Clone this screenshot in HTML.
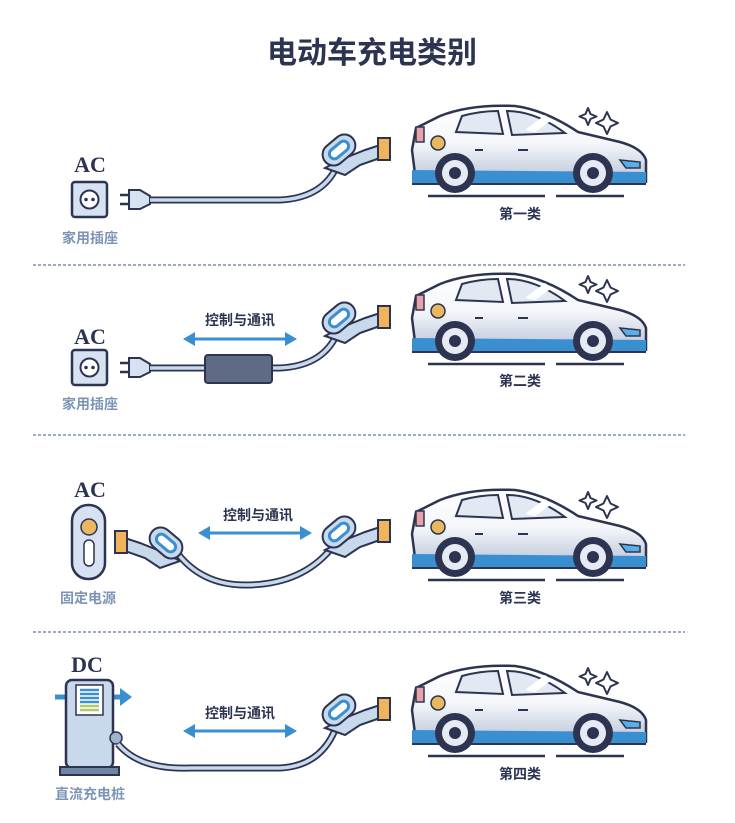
<!DOCTYPE html>
<html><head><meta charset="utf-8"><style>
html,body{margin:0;padding:0;background:#fff}
svg{display:block}
text{font-family:"Liberation Sans","Noto Sans CJK SC",sans-serif;font-weight:bold}
text.ser{font-family:"Liberation Serif",serif;font-weight:bold}
</style></head><body>
<svg width="735" height="823" viewBox="0 0 735 823" xmlns="http://www.w3.org/2000/svg">
<defs>
<linearGradient id="bg" x1="0" y1="0" x2="0" y2="1"><stop offset="0" stop-color="#ffffff"/><stop offset="0.5" stop-color="#f4f6fa"/><stop offset="1" stop-color="#b9c3d6"/></linearGradient>
<g id="car">
<path d="M416,128 L440,116 Q470,104 515,106 Q545,110 578,132 L620,142 Q642,148 646,160 L646,182 L416,182 L412,150 Z" fill="url(#bg)" stroke="#2d3452" stroke-width="2.5" stroke-linejoin="round"/>
<path d="M412,170 L646,172 L646,184 L412,184 Z" fill="#3a8fd0"/>
<path d="M412,184 L646,184" stroke="#2d3452" stroke-width="2"/>
<path d="M456,132 L462,116 Q480,111 498,111 L503,134 Z" fill="#e3e9f2" stroke="#2d3452" stroke-width="2"/>
<path d="M507,111 Q535,111 565,133 L512,135 Z" fill="#e3e9f2" stroke="#2d3452" stroke-width="2"/>
<path d="M525,130 L545,115 L552,120 L535,132 Z" fill="#ffffff"/>
<path d="M416,127 L424,127 L424,142 L416,142 Z" fill="#e9a1a8" stroke="#2d3452" stroke-width="1.5"/>
<circle cx="438" cy="143" r="7" fill="#e9b860" stroke="#2d3452" stroke-width="1.5"/>
<path d="M620,160 L640,162 L640,168 L626,168 Z" fill="#5ab0e6" stroke="#2d3452" stroke-width="1.5"/>
<path d="M475,150 h8 M518,150 h10" stroke="#2d3452" stroke-width="2"/>
<circle cx="455" cy="173" r="20" fill="#2d3452"/><circle cx="455" cy="173" r="13" fill="#e6ebf3"/><circle cx="455" cy="173" r="6" fill="#2d3452"/>
<circle cx="593" cy="173" r="20" fill="#2d3452"/><circle cx="593" cy="173" r="13" fill="#e6ebf3"/><circle cx="593" cy="173" r="6" fill="#2d3452"/>
<path d="M428,196 H545 M556,196 H624" stroke="#2d3452" stroke-width="2.5"/>
<path d="M588,108 l2.5,6 l6,2.5 l-6,2.5 l-2.5,6 l-2.5,-6 l-6,-2.5 l6,-2.5z M607,112 l3.5,7.5 l7.5,3.5 l-7.5,3.5 l-3.5,7.5 l-3.5,-7.5 l-7.5,-3.5 l7.5,-3.5z" fill="none" stroke="#2d3452" stroke-width="2" stroke-linejoin="round"/>
</g>
<g id="handle">
<path d="M325,168 L340,160 L365,150 L380,145 L380,158 L360,165 L345,175 Z" fill="#c9d9ec" stroke="#2d3452" stroke-width="2"/>
<rect x="321" y="139" width="36" height="22" rx="11" transform="rotate(-40 339 150)" fill="#c9d9ec" stroke="#2d3452" stroke-width="2"/>
<rect x="328" y="145" width="22" height="10" rx="5" transform="rotate(-40 339 150)" fill="#fff" stroke="#3a8fd0" stroke-width="3"/>
<rect x="378" y="138" width="12" height="22" fill="#f2b45a" stroke="#2d3452" stroke-width="2"/>
</g>
<g id="outlet">
<rect x="72" y="182" width="35" height="35" rx="3" fill="#d6e2f1" stroke="#2d3452" stroke-width="2.5"/>
<circle cx="89.5" cy="199.5" r="9" fill="#fff" stroke="#2d3452" stroke-width="2"/>
<circle cx="86" cy="199.5" r="1.8" fill="#2d3452"/><circle cx="93" cy="199.5" r="1.8" fill="#2d3452"/>
<path d="M120,195 h9 M120,204 h9" stroke="#2d3452" stroke-width="2.5"/>
<path d="M129,190 L140,190 L150,196 L150,204 L140,209 L129,209 Z" fill="#d6e2f1" stroke="#2d3452" stroke-width="2"/>
</g>
</defs>
<text x="372" y="63" font-size="30" text-anchor="middle" fill="#2d3452">电动车充电类别</text>
<g stroke="#7d8fa8" stroke-width="1.5" stroke-dasharray="3,2"><path d="M33,265 H685 M33,435 H685 M33,632 H685"/></g>
<!-- Row 1 -->
<text class="ser" x="90" y="172" font-size="22" text-anchor="middle" fill="#2d3452">AC</text>
<use href="#outlet"/>
<path d="M150,200 H280 Q320,198 335,170" fill="none" stroke="#2d3452" stroke-width="7"/>
<path d="M150,200 H280 Q320,198 335,170" fill="none" stroke="#c9d9ec" stroke-width="3.5"/>
<use href="#handle"/>
<text x="90" y="243" font-size="14" text-anchor="middle" fill="#7d95b5">家用插座</text>
<use href="#car"/>
<text x="520" y="219" font-size="14" text-anchor="middle" fill="#2d3452">第一类</text>
<!-- Row 2 -->
<g transform="translate(0,168)">
<text class="ser" x="90" y="176" font-size="22" text-anchor="middle" fill="#2d3452">AC</text>
<use href="#outlet"/>
<path d="M150,200 H280 Q320,198 335,170" fill="none" stroke="#2d3452" stroke-width="7"/>
<path d="M150,200 H280 Q320,198 335,170" fill="none" stroke="#c9d9ec" stroke-width="3.5"/>
<rect x="205" y="187" width="67" height="28" rx="3" fill="#5f6b85" stroke="#2d3452" stroke-width="2"/>
<use href="#handle"/>
<text x="90" y="241" font-size="14" text-anchor="middle" fill="#7d95b5">家用插座</text>
<use href="#car"/>
<text x="520" y="218" font-size="14" text-anchor="middle" fill="#2d3452">第二类</text>
</g>
<text x="240" y="325" font-size="14" text-anchor="middle" fill="#2d3452">控制与通讯</text>
<path d="M192,339 H288" stroke="#3a8fd0" stroke-width="3"/><path d="M183,339 l12,-7 v14z M297,339 l-12,-7 v14z" fill="#3a8fd0"/>
<!-- Row 3 -->
<text class="ser" x="90" y="497" font-size="22" text-anchor="middle" fill="#2d3452">AC</text>
<rect x="72" y="505" width="33" height="74" rx="16" fill="#d6e2f1" stroke="#2d3452" stroke-width="2.5"/>
<circle cx="89" cy="527" r="8" fill="#e9b860" stroke="#2d3452" stroke-width="1.5"/>
<rect x="84" y="540" width="10" height="26" rx="5" fill="#fff" stroke="#2d3452" stroke-width="1.5"/>
<text x="88" y="603" font-size="14" text-anchor="middle" fill="#7d95b5">固定电源</text>
<path d="M175,550 Q200,585 245,585 Q300,585 330,550" fill="none" stroke="#2d3452" stroke-width="7"/>
<path d="M175,550 Q200,585 245,585 Q300,585 330,550" fill="none" stroke="#c9d9ec" stroke-width="3.5"/>
<g transform="translate(505,393) scale(-1,1)"><use href="#handle"/></g>
<use href="#handle" transform="translate(0,382)"/>
<text x="258" y="520" font-size="14" text-anchor="middle" fill="#2d3452">控制与通讯</text>
<path d="M207,533 H303" stroke="#3a8fd0" stroke-width="3"/><path d="M198,533 l12,-7 v14z M312,533 l-12,-7 v14z" fill="#3a8fd0"/>
<use href="#car" transform="translate(0,384)"/>
<text x="520" y="603" font-size="14" text-anchor="middle" fill="#2d3452">第三类</text>
<!-- Row 4 -->
<text class="ser" x="87" y="672" font-size="22" text-anchor="middle" fill="#2d3452">DC</text>
<path d="M55,697 H128" stroke="#3a8fd0" stroke-width="5"/><path d="M120,688 l12,9 l-12,9z" fill="#3a8fd0"/>
<rect x="66" y="680" width="47" height="88" rx="6" fill="#c9d9ec" stroke="#2d3452" stroke-width="2.5"/>
<rect x="76" y="685" width="27" height="30" fill="#fff" stroke="#2d3452" stroke-width="1.5"/>
<path d="M80,690 h19 M80,694 h19 M80,698 h19 M80,702 h19" stroke="#3a8fd0" stroke-width="2.5"/><path d="M80,706 h19 M80,710 h19" stroke="#b5c86a" stroke-width="2.5"/>
<rect x="60" y="767" width="59" height="8" fill="#6f84a3" stroke="#2d3452" stroke-width="2"/>
<circle cx="116" cy="738" r="6" fill="#9fb3cc" stroke="#2d3452" stroke-width="1.5"/>
<path d="M118,744 Q140,770 190,768 H280 Q320,766 335,730" fill="none" stroke="#2d3452" stroke-width="7"/>
<path d="M118,744 Q140,770 190,768 H280 Q320,766 335,730" fill="none" stroke="#c9d9ec" stroke-width="3.5"/>
<use href="#handle" transform="translate(0,560)"/>
<text x="240" y="718" font-size="14" text-anchor="middle" fill="#2d3452">控制与通讯</text>
<path d="M192,731 H288" stroke="#3a8fd0" stroke-width="3"/><path d="M183,731 l12,-7 v14z M297,731 l-12,-7 v14z" fill="#3a8fd0"/>
<text x="90" y="799" font-size="14" text-anchor="middle" fill="#7d95b5">直流充电桩</text>
<use href="#car" transform="translate(0,560)"/>
<text x="520" y="779" font-size="14" text-anchor="middle" fill="#2d3452">第四类</text>
</svg>
</body></html>
